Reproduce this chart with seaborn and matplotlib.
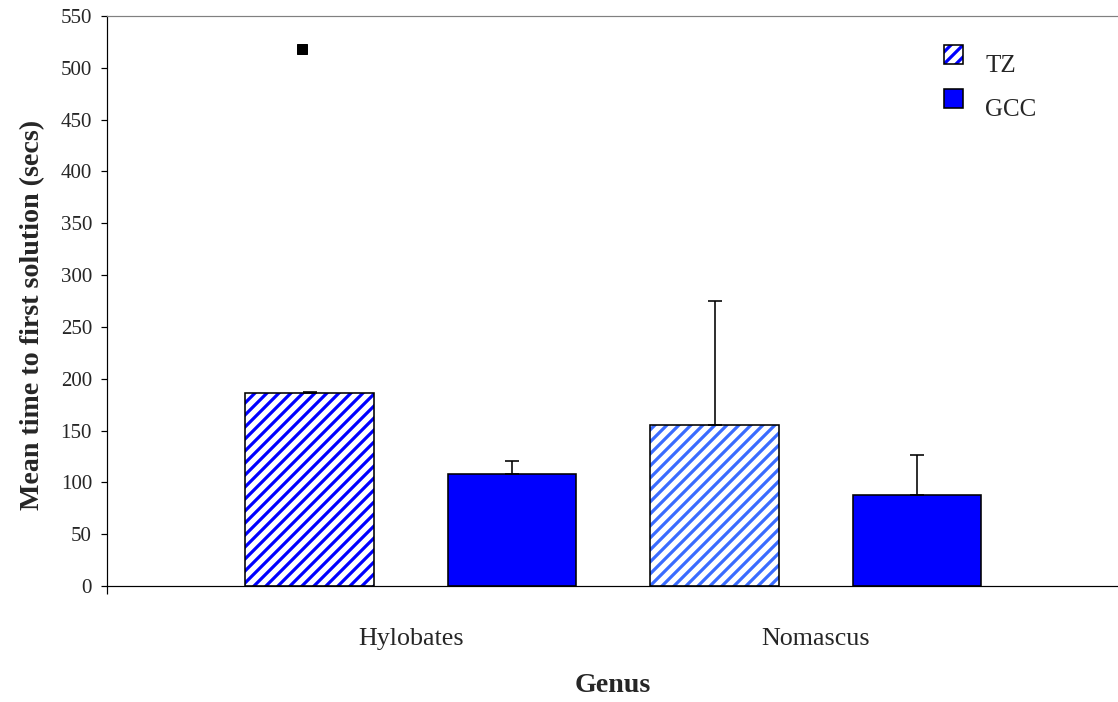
import matplotlib
matplotlib.use("Agg")
import matplotlib.pyplot as plt
from matplotlib.patches import Patch, Rectangle
from matplotlib.legend_handler import HandlerTuple, HandlerPatch
import numpy as np
import pandas as pd
import seaborn as sns

# Data
genera = ["Hylobates", "Nomascus"]
conditions = ["TZ", "GCC"]
tz_mean = [186, 155]
gcc_mean = [108, 88]
tz_err = [1.5, 120]
gcc_err = [12.5, 38]
outlier_value = 518          # single extreme Hylobates TZ observation
y_ticks = list(range(0, 551, 50))

df = pd.DataFrame({
    "genus": genera * 2,
    "condition": [conditions[0]] * len(genera) + [conditions[1]] * len(genera),
    "time": tz_mean + gcc_mean,
})

sns.set_style("white")
plt.rcParams["font.family"] = ["Liberation Serif", "DejaVu Serif"]
plt.rcParams["hatch.linewidth"] = 3.2

DPI = 72
fig = plt.figure(figsize=(1118 / DPI, 702 / DPI), dpi=DPI)
ax = fig.add_axes([107 / 1118, 1 - 586 / 702, 1012.5 / 1118, 570 / 702])

sns.barplot(
    data=df, x="genus", y="time", hue="condition",
    order=genera, hue_order=conditions,
    palette={"TZ": "white", "GCC": "#0000FF"},
    width=1.0, gap=0.367, saturation=1,
    edgecolor="black", linewidth=1.6,
    errorbar=None, legend=False, ax=ax,
)

tz_bars = ax.containers[0]
gcc_bars = ax.containers[1]
hatch_colors = ["#0000FF", "#3A6BFF"]

# Striped TZ bars: hatch in blue, outline redrawn in black on top
for bar, hc in zip(tz_bars, hatch_colors):
    bar.set_facecolor("white")
    bar.set_edgecolor(hc)
    bar.set_linewidth(0)
    bar.set_hatch("//")
    ax.add_patch(Rectangle(bar.get_xy(), bar.get_width(), bar.get_height(),
                           fill=False, edgecolor="black", linewidth=1.6, zorder=3))

# Upper-only error bars
for bars, means, errs in ((tz_bars, tz_mean, tz_err), (gcc_bars, gcc_mean, gcc_err)):
    xs = [b.get_x() + b.get_width() / 2 for b in bars]
    ax.errorbar(xs, means, yerr=[np.zeros(len(errs)), errs], fmt="none",
                ecolor="black", elinewidth=1.6, capsize=7, capthick=1.6, zorder=4)

# Extreme observation marker
b0 = tz_bars[0]
ax.plot([b0.get_x() + b0.get_width() * 0.44], [outlier_value], marker="s",
        markersize=10, color="black", linestyle="none", zorder=5)

ax.set_xlim(-0.75, 1.75)
ax.set_ylim(0, 550)
ax.set_yticks(y_ticks)

for side in ("left", "bottom"):
    ax.spines[side].set_color("black")
    ax.spines[side].set_linewidth(1.2)
ax.spines["top"].set_color("#808080")
ax.spines["top"].set_linewidth(1.2)
ax.spines["right"].set_visible(False)

ax.tick_params(axis="y", direction="out", length=6, width=1.2, color="black",
               left=True, labelsize=21, pad=9)
ax.tick_params(axis="x", which="major", length=0, labelsize=26, pad=42)
ax.set_xticks([-0.75], minor=True)
ax.tick_params(axis="x", which="minor", direction="out", length=8, width=1.2,
               color="black", bottom=True)

ax.set_xlabel("Genus", fontsize=28, fontweight="bold", va="top")
ax.set_ylabel("Mean time to first solution (secs)", fontsize=28, fontweight="bold")
ax.xaxis.set_label_coords(0.5, -0.152)
ax.yaxis.set_label_coords(-0.061, 0.475)

# Legend: swatches sit a little above the text baseline
fs = 25
sw_pad = 0.72
tz_handle = (
    Patch(facecolor="white", edgecolor="#0000FF", hatch="//", linewidth=0),
    Patch(facecolor="none", edgecolor="black", linewidth=1.6),
)
gcc_handle = Patch(facecolor="#0000FF", edgecolor="black", linewidth=1.6)
leg = ax.legend([tz_handle, gcc_handle], conditions, loc="upper left",
                bbox_to_anchor=((944 - 107) / 1012.5, (586 - 45) / 570),
                handler_map={tuple: HandlerTuple(ndivide=1, pad=0, ypad=sw_pad),
                             Patch: HandlerPatch(ypad=sw_pad)},
                frameon=False, fontsize=fs, handlelength=0.76,
                handleheight=1.9,
                handletextpad=0.9, labelspacing=0.28, borderpad=0, borderaxespad=0)

fig.savefig("out.png", dpi=DPI)
